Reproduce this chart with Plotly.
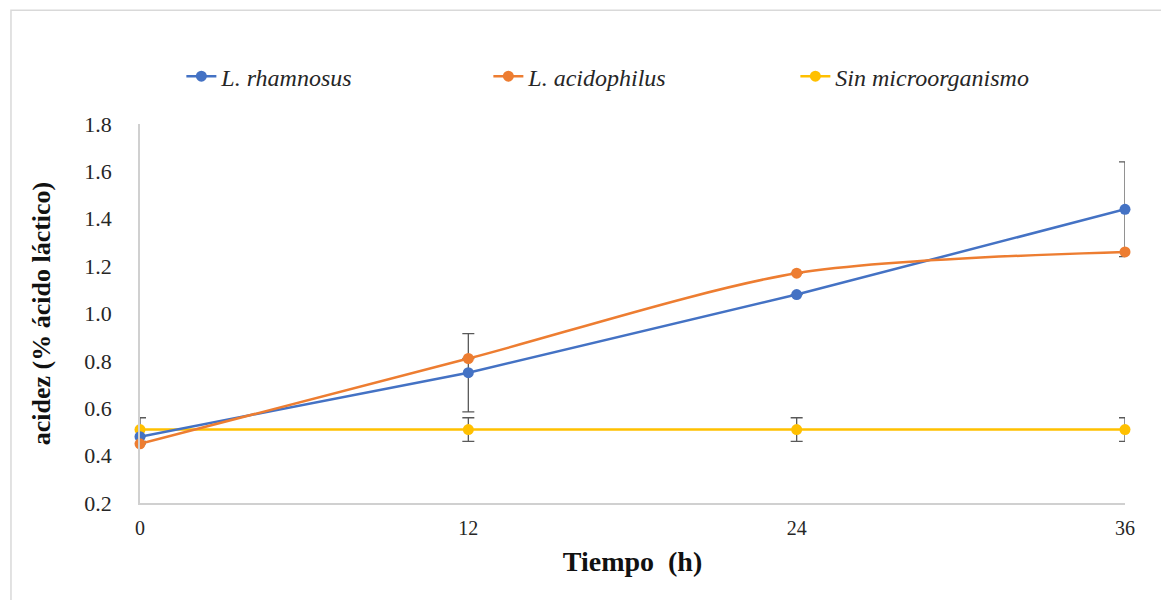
import plotly.graph_objects as go

tiempo = [0, 12, 24, 36]
rhamnosus = [0.48, 0.75, 1.08, 1.44]
rhamnosus_err = [0.0, 0.165, 0.0, 0.20]
acidophilus = [0.45, 0.81, 1.17, 1.26]
acidophilus_err = [0.0, 0.0, 0.0, 0.0]
sin_micro = [0.51, 0.51, 0.51, 0.51]
sin_micro_err = [0.05, 0.05, 0.05, 0.05]
y_ticks = [0.2, 0.4, 0.6, 0.8, 1.0, 1.2, 1.4, 1.6, 1.8]

FONT = "Liberation Serif"
err_style = dict(type="data", color="#595959", thickness=1.3, width=6)

fig = go.Figure()
fig.add_trace(go.Scatter(
    x=tiempo, y=sin_micro, name="<i>Sin microorganismo</i>", mode="lines+markers",
    line=dict(color="#FFC000", width=2.5), marker=dict(size=11, color="#FFC000"),
    error_y=dict(array=sin_micro_err, **err_style), cliponaxis=False, legendrank=3))
fig.add_trace(go.Scatter(
    x=tiempo, y=rhamnosus, name="<i>L. rhamnosus</i>", mode="lines+markers",
    line=dict(color="#4472C4", width=2.5), marker=dict(size=11, color="#4472C4"),
    error_y=dict(array=rhamnosus_err, **err_style), cliponaxis=False, legendrank=1))
fig.add_trace(go.Scatter(
    x=tiempo, y=acidophilus, name="<i>L. acidophilus</i>", mode="lines+markers",
    line=dict(color="#ED7D31", width=2.5, shape="spline", smoothing=0.8),
    marker=dict(size=11, color="#ED7D31"),
    error_y=dict(array=acidophilus_err, **err_style), cliponaxis=False, legendrank=2))

fig.update_layout(
    width=1169, height=600,
    margin=dict(l=132, r=52, t=116, b=105),
    paper_bgcolor="white", plot_bgcolor="white",
    font=dict(family=FONT, color="#404040", size=18),
    showlegend=True,
    legend=dict(orientation="h", x=0.042, y=1.125, xanchor="left", yanchor="middle",
                font=dict(family=FONT, size=24, color="#262626"),
                entrywidth=262, entrywidthmode="pixels", traceorder="normal"),
    xaxis=dict(range=[0, 36], tickvals=tiempo, ticktext=[str(t) for t in tiempo],
               showgrid=False, zeroline=False, showline=True, linecolor="#d0d0d0",
               linewidth=1.5, ticks="", ticklabelstandoff=6,
               tickfont=dict(family=FONT, size=20, color="#262626"),
               title=dict(text="<b>Tiempo  (h)</b>", font=dict(family=FONT, size=28, color="#111111"),
                          standoff=14)),
    yaxis=dict(range=[0.2, 1.8], tickvals=y_ticks, tickformat=".1f",
               showgrid=False, zeroline=False, showline=True, linecolor="#d0d0d0",
               linewidth=1.5, ticks="", ticklabelstandoff=22,
               tickfont=dict(family=FONT, size=22, color="#262626"),
               title=dict(text="<b>acidez (% ácido láctico)</b>",
                          font=dict(family=FONT, size=26, color="#111111"), standoff=26)),
    shapes=[dict(type="rect", xref="paper", yref="paper",
                 x0=-0.131, x1=1.038, y0=-0.26, y1=1.30,
                 line=dict(color="#d9d9d9", width=1.5), layer="below")],
)

fig.write_html("out.html")
